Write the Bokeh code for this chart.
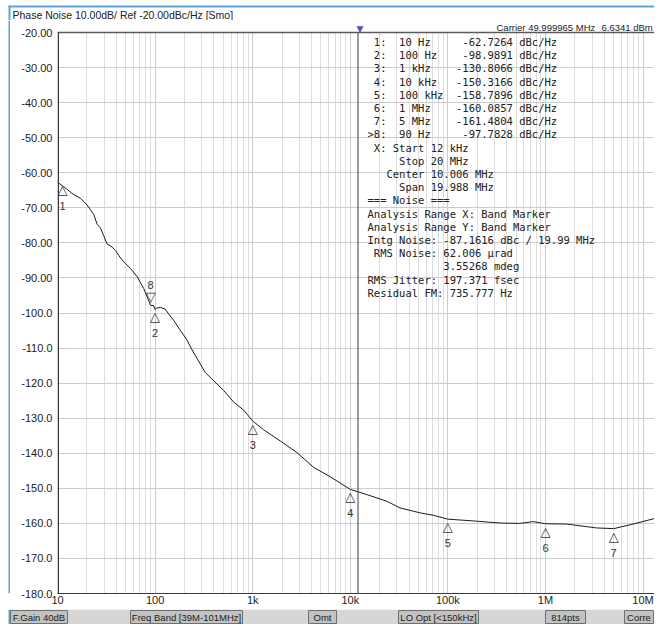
from bokeh.plotting import figure
from bokeh.models import (FixedTicker, Span, LabelSet, ColumnDataSource, Range1d,
                          BoxAnnotation)
from bokeh.layouts import column, row
from bokeh.core.properties import value
from bokeh.embed import file_html
from bokeh.resources import INLINE

# ---------------- data ----------------
freq_hz = [10, 11.6, 14.1, 17.2, 20.1, 23.5, 25.5, 27.5, 29.8, 32.2,
           36.3, 39.3, 42.4, 47.7, 55.9, 65.4, 76.4, 90, 96.8, 100,
           104, 113, 127, 138, 155, 181, 212, 239, 327, 398,
           504, 638, 808, 1000, 1294, 1918, 2838, 4198, 6223, 10000,
           14800, 23700, 32400, 51900, 71000, 100000, 182000, 342000, 548000, 750000,
           1000000, 1650000, 3340000, 5000000, 7900000, 13200000, 18800000]
noise_dbc = [-62.7, -64.0, -65.9, -67.3, -69.2, -71.9, -74.7, -75.7, -78.0, -80.3,
             -81.2, -82.2, -83.6, -85.4, -87.3, -89.6, -93.0, -97.8, -97.9, -99.0,
             -98.6, -98.4, -98.9, -100.3, -102.1, -104.9, -107.7, -110.5, -117.0, -119.3,
             -122.1, -125.4, -127.7, -130.8, -133.3, -136.5, -139.8, -144.0, -146.7, -150.3,
             -151.8, -153.7, -155.6, -157.0, -157.7, -158.8, -159.3, -159.9, -160.0, -159.5,
             -160.1, -160.2, -161.3, -161.5, -160.2, -158.6, -159.7]

marker_ids = ["1", "2", "3", "4", "5", "6", "7", "8"]
marker_freq = [10, 100, 1000, 10000, 100000, 1000000, 5000000, 90]
marker_freq_text = ["10 Hz", "100 Hz", "1 kHz", "10 kHz", "100 kHz", "1 MHz", "5 MHz", "90 Hz"]
marker_dbc = [-62.7264, -98.9891, -130.8066, -150.3166, -158.7896, -160.0857, -161.4804, -97.7828]

y_ticks = [-20, -30, -40, -50, -60, -70, -80, -90, -100, -110, -120, -130, -140, -150, -160, -170, -180]
y_tick_labels = ["-20.00", "-30.00", "-40.00", "-50.00", "-60.00", "-70.00", "-80.00", "-90.00",
                 "-100.0", "-110.0", "-120.0", "-130.0", "-140.0", "-150.0", "-160.0", "-170.0", "-180.0"]
x_ticks = [10, 100, 1000, 10000, 100000, 1000000, 10000000]
x_tick_labels = ["10", "100", "1k", "10k", "100k", "1M", "10M"]

band_start_hz = 12000

header_text = "Phase Noise 10.00dB/ Ref -20.00dBc/Hz [Smo]"
carrier_text = "Carrier 49.999965 MHz"
carrier_power = "6.6341 dBm"
info_lines = [
    " X: Start 12 kHz",
    "     Stop 20 MHz",
    "   Center 10.006 MHz",
    "     Span 19.988 MHz",
    "=== Noise ===",
    "Analysis Range X: Band Marker",
    "Analysis Range Y: Band Marker",
    "Intg Noise: -87.1616 dBc / 19.99 MHz",
    " RMS Noise: 62.006 \u00b5rad",
    "            3.55268 mdeg",
    "RMS Jitter: 197.371 fsec",
    "Residual FM: 735.777 Hz",
]
status_buttons = ["F.Gain 40dB", "Freq Band [39M-101MHz]", "Omt", "LO Opt [<150kHz]", "814pts", "Corre"]

# ---------------- geometry / styling ----------------
W = 654
HEAD_H, MAIN_H, BAR_H = 20, 589, 15
BORDER_BOTTOM = 16
FRAME_LEFT = 57          # page x of the y axis
FRAME_TOP = HEAD_H       # page y of the main frame top
REF_LINE_Y = 32          # page y of the -20 dB line
FRAME_BOTTOM = HEAD_H + MAIN_H - BORDER_BOTTOM   # page y of the -180 dB line
px_per_db = (FRAME_BOTTOM - REF_LINE_Y) / 160.0
y_top = -20 + (REF_LINE_Y - FRAME_TOP) / px_per_db

SANS = "Liberation Sans"
MONO = "DejaVu Sans Mono"
BLUE = "#5aa5dc"
INK = "#202020"
PURPLE = "#6b46b8"
NB = "\u00a0"


def blank_fig(w, h):
    f = figure(width=w, height=h, x_range=Range1d(0, w), y_range=Range1d(h, 0),
               output_backend="svg", toolbar_location=None,
               x_axis_location=None, y_axis_location=None, min_border=0)
    f.grid.visible = False
    f.outline_line_color = None
    f.background_fill_color = "white"
    f.border_fill_color = "white"
    return f


# ---------------- header strip ----------------
head = blank_fig(W, HEAD_H)
head.quad(left=[8, 8], right=[W, 10], top=[5, 5], bottom=[7, HEAD_H],
          fill_color=BLUE, line_color=None)
head.text(x=[12], y=[14], text=[header_text], text_font=value(SANS),
          text_font_size="10.5px", text_baseline="middle", text_color=INK)

# ---------------- left blue strip ----------------
strip = blank_fig(10, MAIN_H)
strip.quad(left=[8], right=[10], top=[0], bottom=[MAIN_H], fill_color=BLUE, line_color=None)

# ---------------- main chart ----------------
p = figure(width=W - 10, height=MAIN_H, x_axis_type="log",
           x_range=Range1d(10, 1.31e7), y_range=Range1d(-180, y_top),
           output_backend="svg", toolbar_location=None,
           min_border_left=FRAME_LEFT - 10, min_border_right=0, min_border_top=0,
           min_border_bottom=BORDER_BOTTOM)
p.outline_line_color = None
p.background_fill_color = "white"
p.border_fill_color = "white"

p.xaxis.ticker = FixedTicker(ticks=x_ticks,
                             minor_ticks=[m * 10 ** d for d in range(1, 8) for m in range(2, 10)])
p.yaxis.ticker = FixedTicker(ticks=y_ticks)
p.xaxis.major_label_overrides = {t: l for t, l in zip(x_ticks, x_tick_labels)}
p.yaxis.major_label_overrides = {t: l for t, l in zip(y_ticks, y_tick_labels)}
for ax in (p.xaxis, p.yaxis):
    ax.major_tick_line_color = None
    ax.minor_tick_line_color = None
    ax.major_tick_out = 0
    ax.major_tick_in = 0
    ax.minor_tick_out = 0
    ax.minor_tick_in = 0
    ax.major_label_text_font = SANS
    ax.major_label_text_font_size = "11px"
    ax.major_label_text_color = "#222222"
p.xaxis.axis_line_color = "#3a3a3a"
p.yaxis.axis_line_color = None
p.xaxis.major_label_standoff = 0
p.yaxis.major_label_standoff = 5

p.xgrid.grid_line_color = "#cccccc"
p.xgrid.minor_grid_line_color = "#dedede"
p.ygrid.grid_line_color = "#cccccc"

p.add_layout(Span(location=band_start_hz, dimension="height", line_color="#3a3a3a", line_width=1))
# blank strip above the reference line (carrier readout area)
p.add_layout(BoxAnnotation(bottom=-20, fill_color="white", fill_alpha=1, line_color=None))
p.add_layout(Span(location=-20, dimension="width", line_color="#5a5a5a", line_width=1.5))
# left axis line from -180 to -20 only
p.add_layout(BoxAnnotation(left=0, right=1.5, left_units="screen", right_units="screen",
                           bottom=-180, top=-20, fill_color="#3a3a3a", fill_alpha=1,
                           line_color=None))

p.line(freq_hz, noise_dbc, line_color="#1c1c1c", line_width=1)

# marker flags (the flag sitting on the axis is nudged inside so it stays visible)
up_dx = [5 if f == x_ticks[0] else 0 for f in marker_freq[:7]]
up = ColumnDataSource(dict(x=marker_freq[:7], y=marker_dbc[:7], t=marker_ids[:7],
                           tri=["\u25b3"] * 7, dx=up_dx))
dn = ColumnDataSource(dict(x=marker_freq[7:], y=marker_dbc[7:], t=marker_ids[7:],
                           tri=["\u25bd"]))
p.add_layout(LabelSet(x="x", y="y", text="tri", source=up, text_align="center",
                      text_baseline="top", x_offset="dx", y_offset=0,
                      text_font=value("DejaVu Sans"),
                      text_font_size="13px", text_color="#333333"))
p.add_layout(LabelSet(x="x", y="y", text="t", source=up, text_align="center",
                      text_baseline="middle", x_offset="dx", y_offset=-24,
                      text_font=value(SANS),
                      text_font_size="11px", text_color="#333333"))
p.add_layout(LabelSet(x="x", y="y", text="tri", source=dn, text_align="center",
                      text_baseline="bottom", y_offset=1, text_font=value("DejaVu Sans"),
                      text_font_size="13px", text_color="#333333"))
p.add_layout(LabelSet(x="x", y="y", text="t", source=dn, text_align="center",
                      text_baseline="middle", y_offset=20, text_font=value(SANS),
                      text_font_size="11px", text_color="#333333"))

# band-marker pointer at the top of the start line
p.add_layout(LabelSet(x="x", y="y", text="t",
                      source=ColumnDataSource(dict(x=[band_start_hz], y=[-20], t=["\u25bc"])),
                      text_align="center", text_baseline="bottom", x_offset=2, y_offset=-1,
                      text_font=value("DejaVu Sans"), text_font_size="9px",
                      text_color=PURPLE))


def screen_y(page_y):
    return FRAME_BOTTOM - page_y


def screen_x(page_x):
    return page_x - FRAME_LEFT


# carrier readout above the reference line
p.add_layout(LabelSet(x="x", y="y", text="t",
                      source=ColumnDataSource(dict(
                          x=[screen_x(496), screen_x(601)], y=[screen_y(26.5)] * 2,
                          t=[carrier_text.replace(" ", NB), carrier_power.replace(" ", NB)])),
                      x_units="screen", y_units="screen", text_baseline="middle",
                      text_font=value(SANS), text_font_size="9.5px", text_color=INK))

# text panel (marker table + band/noise readout)
table_lines = []
for mid, ft, v in zip(marker_ids, marker_freq_text, marker_dbc):
    pfx = ">" if mid == "8" else " "
    table_lines.append(f"{pfx}{mid}:  {ft:<8}{v:>10.4f} dBc/Hz")
all_lines = table_lines + info_lines
pan = dict(x=[screen_x(367)] * len(all_lines),
           y=[screen_y(41.5 + 13.2 * i) for i in range(len(all_lines))],
           t=[s.replace(" ", NB) for s in all_lines])
p.add_layout(LabelSet(x="x", y="y", text="t", source=ColumnDataSource(pan),
                      x_units="screen", y_units="screen", text_baseline="middle",
                      text_font=value(MONO), text_font_size="10.5px", text_color=INK))

# ---------------- status bar ----------------
bar = blank_fig(W, BAR_H)
bar.quad(left=[10], right=[W], top=[0], bottom=[BAR_H], fill_color="#d6d6d6", line_color=None)
bar.quad(left=[8], right=[10], top=[0], bottom=[BAR_H], fill_color=BLUE, line_color=None)
btn_left = [10, 130, 308, 398, 545, 624]
btn_right = [67, 242, 336, 478, 585, 653]
bar.quad(left=btn_left, right=btn_right, top=[1] * 6, bottom=[BAR_H - 1] * 6,
         fill_color="#c2c2c2", line_color="#6e6e6e", line_width=1)
bar.text(x=[(a + b) / 2 for a, b in zip(btn_left, btn_right)],
         y=[BAR_H / 2 + 0.5] * 6, text=status_buttons,
         text_align="center", text_baseline="middle",
         text_font=value(SANS), text_font_size="9.5px", text_color=INK)

layout = column(head, row(strip, p), bar)
open("out.html", "w").write(file_html(layout, INLINE))
